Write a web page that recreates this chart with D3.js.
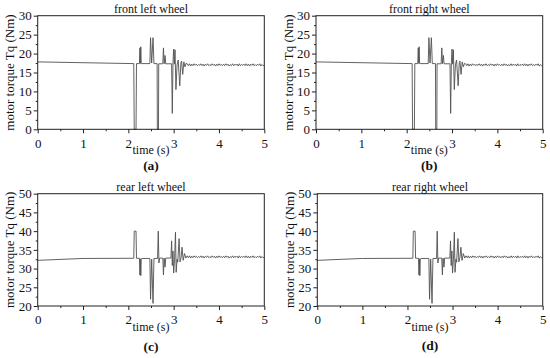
<!DOCTYPE html>
<html>
<head>
<meta charset="utf-8">
<script src="https://cdn.jsdelivr.net/npm/d3@7"></script>
<style>
  body { margin: 0; background: #fff; }
  svg { display: block; }
  text { font-family: "Liberation Serif", "Times New Roman", serif; fill: #111; }
</style>
</head>
<body>
<svg id="viz" width="550" height="358"></svg>
<script>
// time axis ticks and torque ticks
var timeTicks = [0, 1, 2, 3, 4, 5];
var frontTicks = [0, 5, 10, 15, 20, 25, 30];
var rearTicks = [20, 25, 30, 35, 40, 45, 50];

// transient part, front wheels (s, Nm)
var frontTime = [0, 2.12, 2.13, 2.17, 2.18, 2.245, 2.255, 2.265, 2.275, 2.285, 2.295, 2.475, 2.49, 2.515, 2.545, 2.565,
  2.635, 2.64, 2.665, 2.67, 2.76, 2.775, 2.79, 2.81, 2.825, 2.955, 2.97, 2.985, 3.0, 3.015, 3.03, 3.05, 3.075, 3.1,
  3.135, 3.16, 3.175, 3.2, 3.225, 3.25, 3.275];
var frontTq = [17.8, 17.35, 0, 0, 17.35, 17.35, 21.5, 17.4, 21.8, 17.4, 17.35, 17.35, 24.2, 17.5, 24.2, 17.35,
  17.35, 0, 0, 17.3, 17.3, 21.5, 17.3, 19.5, 17.3, 17.3, 4.2, 17.5, 21.2, 17.2, 21.0, 10.5, 17.0, 18.3,
  11.5, 17.6, 18.0, 14.5, 17.8, 16.5, 17.4];

// transient part, rear wheels (s, Nm)
var rearTime = [0, 1.0, 2.12, 2.13, 2.17, 2.18, 2.245, 2.255, 2.265, 2.275, 2.285, 2.295, 2.475, 2.49, 2.515, 2.545,
  2.565, 2.645, 2.66, 2.675, 2.69, 2.76, 2.775, 2.79, 2.81, 2.825, 2.94, 2.955, 2.97, 2.985, 3.0, 3.02, 3.04, 3.055,
  3.075, 3.09, 3.12, 3.14, 3.165, 3.185, 3.21, 3.24, 3.27];
var rearTq = [32.2, 32.7, 32.75, 40, 40, 32.75, 32.75, 28.3, 32.6, 28.1, 32.6, 32.7, 32.7, 21.8, 32.5, 20.7,
  32.7, 32.7, 40, 31.5, 32.8, 32.8, 28.3, 32.8, 30.4, 32.8, 32.8, 37.4, 30.8, 34.7, 28.8, 32.5, 39.7, 29.0,
  32.5, 31.7, 38.0, 31.8, 33.0, 35.7, 32.2, 34.0, 32.8];

// settled part, shared sample times
var settleTime = [3.3, 3.325, 3.35, 3.375, 3.4, 3.425, 3.45, 3.475, 3.5, 3.525, 3.55, 3.575, 3.6, 3.625, 3.65, 3.675,
  3.7, 3.725, 3.75, 3.775, 3.8, 3.825, 3.85, 3.875, 3.9, 3.925, 3.95, 3.975, 4.0, 4.025, 4.05, 4.075, 4.1, 4.125,
  4.15, 4.175, 4.2, 4.225, 4.25, 4.275, 4.3, 4.325, 4.35, 4.375, 4.4, 4.425, 4.45, 4.475, 4.5, 4.525, 4.55, 4.575,
  4.6, 4.625, 4.65, 4.675, 4.7, 4.725, 4.75, 4.775, 4.8, 4.825, 4.85, 4.875, 4.9, 4.925, 4.95, 4.975, 5.0];
var frontSettle = [17.3, 16.8, 17.3, 16.7, 17.2, 16.8, 17.3, 16.9, 17.2, 16.8,
  17.1, 16.9, 17.3, 16.8, 17.2, 16.7, 17.2, 16.9, 17.3, 16.8,
  17.1, 16.8, 17.3, 16.9, 17.2, 16.7, 17.2, 16.8, 17.3, 16.9,
  17.1, 16.8, 17.2, 16.8, 17.3, 16.9, 17.2, 16.7, 17.1, 16.8,
  17.3, 16.8, 17.2, 16.9, 17.2, 16.7, 17.3, 16.8, 17.1, 16.9,
  17.2, 16.8, 17.3, 16.8, 17.2, 16.7, 17.2, 16.9, 17.3, 16.8,
  17.1, 16.8, 17.2, 16.9, 17.3, 16.7, 17.1, 16.8, 17.0];
var rearSettle = [33.4, 32.9, 33.4, 32.8, 33.3, 32.9, 33.4, 33.0, 33.3, 32.9,
  33.2, 33.0, 33.4, 32.9, 33.3, 32.8, 33.3, 33.0, 33.4, 32.9,
  33.2, 32.9, 33.4, 33.0, 33.3, 32.8, 33.3, 32.9, 33.4, 33.0,
  33.2, 32.9, 33.3, 32.9, 33.4, 33.0, 33.3, 32.8, 33.2, 32.9,
  33.4, 32.9, 33.3, 33.0, 33.3, 32.8, 33.4, 32.9, 33.2, 33.0,
  33.3, 32.9, 33.4, 32.9, 33.3, 32.8, 33.3, 33.0, 33.4, 32.9,
  33.2, 32.9, 33.3, 33.0, 33.4, 32.8, 33.2, 32.9, 33.1];

function toPoints(t, v) {
  return t.map(function (d, i) { return [d, v[i]]; });
}
var frontSeries = toPoints(frontTime, frontTq).concat(toPoints(settleTime, frontSettle));
var rearSeries = toPoints(rearTime, rearTq).concat(toPoints(settleTime, rearSettle));

var panels = [
  { title: "front left wheel", tag: "(a)", data: frontSeries, yTicks: frontTicks,
    left: 37.7, right: 264.3, top: 15.7, bottom: 129.3, tagY: 169.5 },
  { title: "front right wheel", tag: "(b)", data: frontSeries, yTicks: frontTicks,
    left: 316, right: 542.7, top: 15.7, bottom: 129.3, tagY: 169.5 },
  { title: "rear left wheel", tag: "(c)", data: rearSeries, yTicks: rearTicks,
    left: 37.7, right: 264.3, top: 193.7, bottom: 306, tagY: 351 },
  { title: "rear right wheel", tag: "(d)", data: rearSeries, yTicks: rearTicks,
    left: 317.3, right: 542.7, top: 193.7, bottom: 306, tagY: 350 }
];

var svg = d3.select("#viz");

function plainAxis(s) {
  s.attr("font-family", null).attr("font-size", null);
  s.select(".domain").remove();
}

panels.forEach(function (p) {
  var x = d3.scaleLinear().domain([timeTicks[0], timeTicks[timeTicks.length - 1]]).range([p.left, p.right]);
  var y = d3.scaleLinear().domain([p.yTicks[0], p.yTicks[p.yTicks.length - 1]]).range([p.bottom, p.top]);
  var g = svg.append("g");

  var xMinor = d3.range(0.5, 5, 1);
  var yStep = p.yTicks[1] - p.yTicks[0];
  var yMinor = p.yTicks.slice(0, -1).map(function (d) { return d + yStep / 2; });

  // minor ticks
  g.append("g").attr("transform", "translate(0," + p.bottom + ")")
    .call(d3.axisBottom(x).tickValues(xMinor).tickSize(2).tickSizeOuter(0).tickFormat(""))
    .call(plainAxis);
  g.append("g").attr("transform", "translate(" + p.left + ",0)")
    .call(d3.axisLeft(y).tickValues(yMinor).tickSize(2).tickSizeOuter(0).tickFormat(""))
    .call(plainAxis);

  // major ticks + labels
  g.append("g").attr("transform", "translate(0," + p.bottom + ")")
    .call(d3.axisBottom(x).tickValues(timeTicks).tickSize(4).tickSizeOuter(0).tickPadding(5).tickFormat(d3.format("d")))
    .call(plainAxis)
    .selectAll("text").attr("font-size", 13);

  g.append("g").attr("transform", "translate(" + p.left + ",0)")
    .call(d3.axisLeft(y).tickValues(p.yTicks).tickSize(4).tickSizeOuter(0).tickPadding(2).tickFormat(d3.format("d")))
    .call(plainAxis)
    .selectAll("text").attr("font-size", 13);

  g.selectAll(".tick line").attr("stroke", "#222");

  // data line
  g.append("path")
    .datum(p.data)
    .attr("fill", "none")
    .attr("stroke", "#505050")
    .attr("stroke-width", 0.9)
    .attr("stroke-linejoin", "round")
    .attr("d", d3.line().x(function (d) { return x(d[0]); }).y(function (d) { return y(d[1]); }));

  // frame
  g.append("rect")
    .attr("x", p.left).attr("y", p.top)
    .attr("width", p.right - p.left).attr("height", p.bottom - p.top)
    .attr("fill", "none").attr("stroke", "#222").attr("stroke-width", 1);

  var cx = (p.left + p.right) / 2;
  g.append("text").attr("x", cx).attr("y", p.top - 3)
    .attr("text-anchor", "middle").attr("font-size", 12).text(p.title);
  g.append("text").attr("x", cx).attr("y", p.bottom + 25)
    .attr("text-anchor", "middle").attr("font-size", 12).text("time (s)");
  g.append("text")
    .attr("transform", "translate(" + (p.left - 28) + "," + ((p.top + p.bottom) / 2) + ") rotate(-90)")
    .attr("text-anchor", "middle").attr("dy", "0.35em").attr("font-size", 13)
    .text("motor torque Tq (Nm)");
  g.append("text").attr("x", cx).attr("y", p.tagY)
    .attr("text-anchor", "middle").attr("font-size", 13.5).attr("font-weight", "bold").text(p.tag);
});
</script>
</body>
</html>
